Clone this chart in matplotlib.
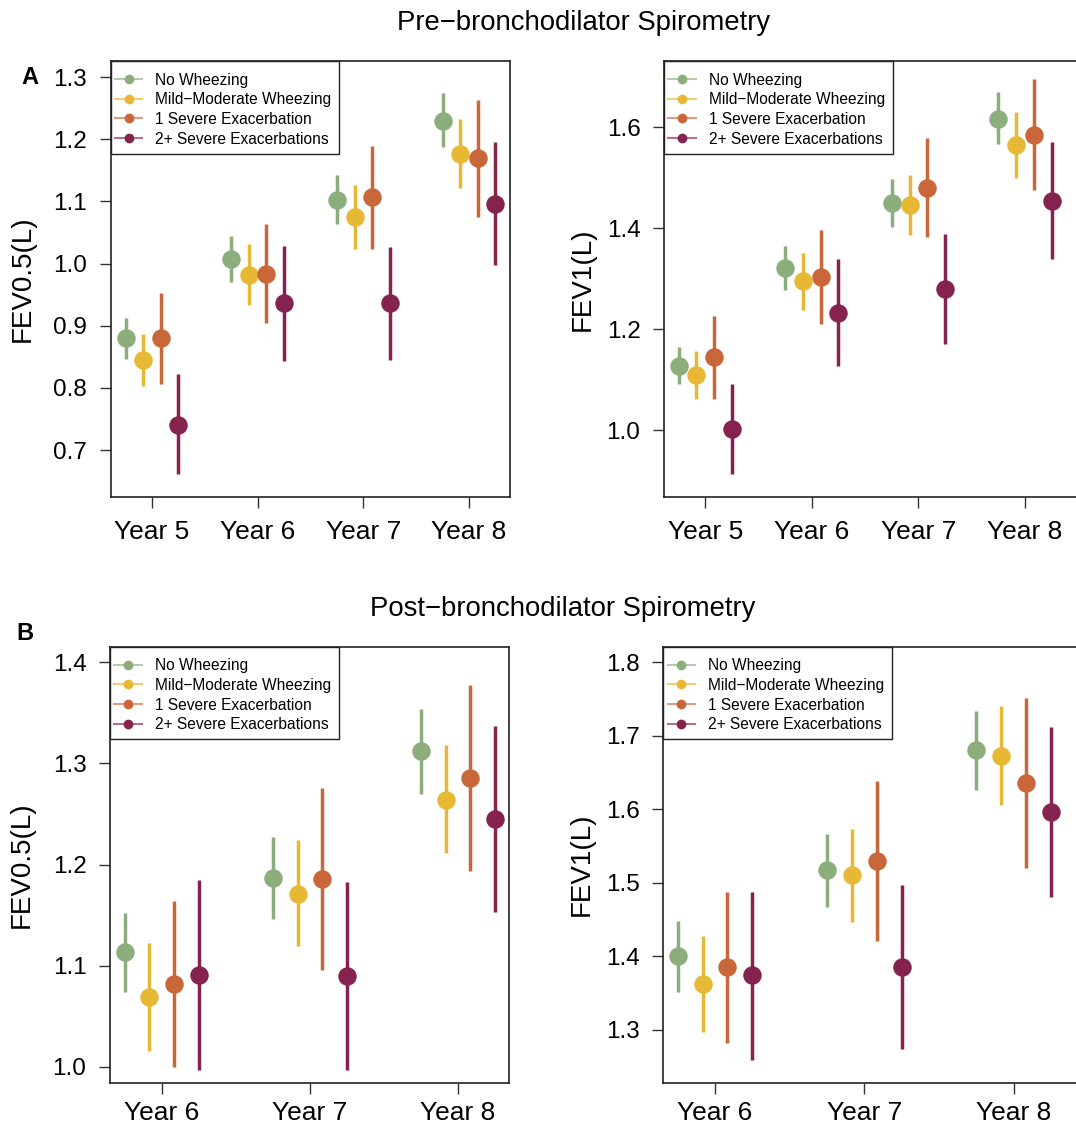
import matplotlib
matplotlib.use("Agg")
import matplotlib.pyplot as plt
from matplotlib.lines import Line2D
from matplotlib.patches import Rectangle
import numpy as np

plt.rcParams['font.family'] = ['Liberation Sans', 'DejaVu Sans']

# ---------------- data ----------------
groups = ["No Wheezing", "Mild\u2212Moderate Wheezing", "1 Severe Exacerbation", "2+ Severe Exacerbations"]
colors = ["#8BAE7C", "#E6B834", "#C9663A", "#85234E"]
line_tints = ["#B5CBAB", "#EFCF75", "#DC9D80", "#B36F8B"]

years_pre = ["Year 5", "Year 6", "Year 7", "Year 8"]
years_post = ["Year 6", "Year 7", "Year 8"]

# Pre-bronchodilator FEV0.5 (rows: groups, cols: years)
pre_fev05_mean = [[0.880, 1.007, 1.102, 1.230],
                  [0.845, 0.982, 1.075, 1.177],
                  [0.880, 0.984, 1.107, 1.170],
                  [0.741, 0.936, 0.937, 1.096]]
pre_fev05_lo = [[0.846, 0.970, 1.063, 1.187],
                [0.803, 0.934, 1.024, 1.122],
                [0.807, 0.905, 1.024, 1.075],
                [0.661, 0.844, 0.845, 0.997]]
pre_fev05_hi = [[0.912, 1.045, 1.142, 1.274],
                [0.887, 1.031, 1.126, 1.232],
                [0.953, 1.063, 1.190, 1.264],
                [0.822, 1.028, 1.027, 1.195]]

# Pre-bronchodilator FEV1
pre_fev1_mean = [[1.128, 1.321, 1.450, 1.617],
                 [1.110, 1.295, 1.446, 1.564],
                 [1.145, 1.303, 1.480, 1.585],
                 [1.003, 1.232, 1.280, 1.455]]
pre_fev1_lo = [[1.092, 1.277, 1.402, 1.566],
               [1.063, 1.238, 1.386, 1.500],
               [1.063, 1.210, 1.382, 1.476],
               [0.914, 1.127, 1.172, 1.339]]
pre_fev1_hi = [[1.165, 1.365, 1.497, 1.669],
               [1.157, 1.352, 1.505, 1.630],
               [1.227, 1.396, 1.579, 1.696],
               [1.092, 1.339, 1.388, 1.570]]

# Post-bronchodilator FEV0.5
post_fev05_mean = [[1.113, 1.187, 1.312],
                   [1.069, 1.171, 1.264],
                   [1.082, 1.186, 1.286],
                   [1.091, 1.090, 1.245]]
post_fev05_lo = [[1.074, 1.146, 1.270],
                 [1.016, 1.119, 1.211],
                 [1.000, 1.096, 1.194],
                 [0.997, 0.997, 1.153]]
post_fev05_hi = [[1.152, 1.227, 1.354],
                 [1.122, 1.224, 1.318],
                 [1.164, 1.276, 1.378],
                 [1.185, 1.183, 1.337]]

# Post-bronchodilator FEV1
post_fev1_mean = [[1.400, 1.517, 1.680],
                  [1.362, 1.510, 1.673],
                  [1.385, 1.530, 1.635],
                  [1.374, 1.386, 1.596]]
post_fev1_lo = [[1.351, 1.467, 1.626],
                [1.297, 1.447, 1.606],
                [1.282, 1.421, 1.520],
                [1.259, 1.274, 1.481]]
post_fev1_hi = [[1.448, 1.566, 1.734],
                [1.427, 1.573, 1.740],
                [1.488, 1.639, 1.751],
                [1.488, 1.497, 1.712]]

offsets = [-0.25, -0.0833, 0.0833, 0.25]

# ---------------- figure ----------------
W, H = 1076, 1126
fig = plt.figure(figsize=(W / 100, H / 100), dpi=100)


def rect(x0, y0, x1, y1):
    return [x0 / W, 1 - y1 / H, (x1 - x0) / W, (y1 - y0) / H]


def panel(r, years, mean, lo, hi, xlim, ylim, yticks, ylabel, ylab_x, xpad=8.5):
    ax = fig.add_axes(rect(*r))
    aw = r[2] - r[0]
    ah = r[3] - r[1]
    xs = np.arange(1, len(years) + 1)
    for g in range(len(groups)):
        m = np.array(mean[g]); l = np.array(lo[g]); h = np.array(hi[g])
        ax.errorbar(xs + offsets[g], m, yerr=[m - l, h - m], fmt='o',
                    color=colors[g], ms=13.3, elinewidth=2.5, capsize=0,
                    markeredgewidth=0, zorder=3)
    ax.set_xlim(*xlim)
    ax.set_ylim(*ylim)
    ax.set_xticks(xs)
    ax.set_xticklabels(years)
    ax.set_yticks(yticks)
    ax.set_yticklabels([f"{t:.1f}" for t in yticks])
    ax.tick_params(axis='both', direction='out', length=8, width=1.0,
                   color='#333333')
    ax.tick_params(axis='y', pad=9, labelsize=17.5)
    ax.tick_params(axis='x', pad=xpad, labelsize=19)
    for s in ax.spines.values():
        s.set_linewidth(1.2)
        s.set_color('#222222')
    handles = [Line2D([0], [0], color=line_tints[g], lw=1.5, marker='o', ms=6,
                      markerfacecolor=colors[g], markeredgecolor=colors[g])
               for g in range(len(groups))]
    leg = ax.legend(handles, groups, loc='upper left',
                    bbox_to_anchor=(4.3 / aw, 1 - 11.5 / ah),
                    borderaxespad=0, borderpad=0,
                    fontsize=11.2, frameon=False,
                    handlelength=1.75, handletextpad=0.85,
                    labelspacing=0.30)
    leg.set_zorder(5)
    # legend box (R style, square corners, flush with top-left corner)
    bw, bh = 228.5, 92.7
    ax.add_patch(Rectangle((0, 1 - bh / ah), bw / aw, bh / ah,
                           transform=ax.transAxes, facecolor='white',
                           edgecolor='#222222', lw=1.0, zorder=4,
                           clip_on=False))
    yc = (r[1] + r[3]) / 2
    fig.text(ylab_x / W, 1 - yc / H, ylabel, rotation=90, ha='center',
             va='center', fontsize=20)
    return ax


panel((110.7, 61, 510, 496.7), years_pre, pre_fev05_mean, pre_fev05_lo, pre_fev05_hi,
      (0.609, 4.388), (0.625, 1.326), [0.7, 0.8, 0.9, 1.0, 1.1, 1.2, 1.3],
      "FEV0.5(L)", 23)
panel((664, 61, 1085, 496.7), years_pre, pre_fev1_mean, pre_fev1_lo, pre_fev1_hi,
      (0.613, 4.563), (0.869, 1.731), [1.0, 1.2, 1.4, 1.6],
      "FEV1(L)", 583)
panel((110, 646.7, 509.3, 1082.7), years_post, post_fev05_mean, post_fev05_lo, post_fev05_hi,
      (0.651, 3.346), (0.9842, 1.4155), [1.0, 1.1, 1.2, 1.3, 1.4],
      "FEV0.5(L)", 22, xpad=5.5)
panel((663.3, 646.7, 1085, 1082.7), years_post, post_fev1_mean, post_fev1_lo, post_fev1_hi,
      (0.654, 3.478), (1.228, 1.821), [1.3, 1.4, 1.5, 1.6, 1.7, 1.8],
      "FEV1(L)", 582, xpad=5.5)

fig.text(584 / W, 1 - 23 / H, "Pre\u2212bronchodilator Spirometry", ha='center', va='center', fontsize=19.8)
fig.text(563 / W, 1 - 609 / H, "Post\u2212bronchodilator Spirometry", ha='center', va='center', fontsize=19.8)
fig.text(30 / W, 1 - 77 / H, "A", ha='center', va='center', fontsize=17, fontweight='bold')
fig.text(25 / W, 1 - 633 / H, "B", ha='center', va='center', fontsize=17, fontweight='bold')

fig.savefig("out.png", dpi=100)
